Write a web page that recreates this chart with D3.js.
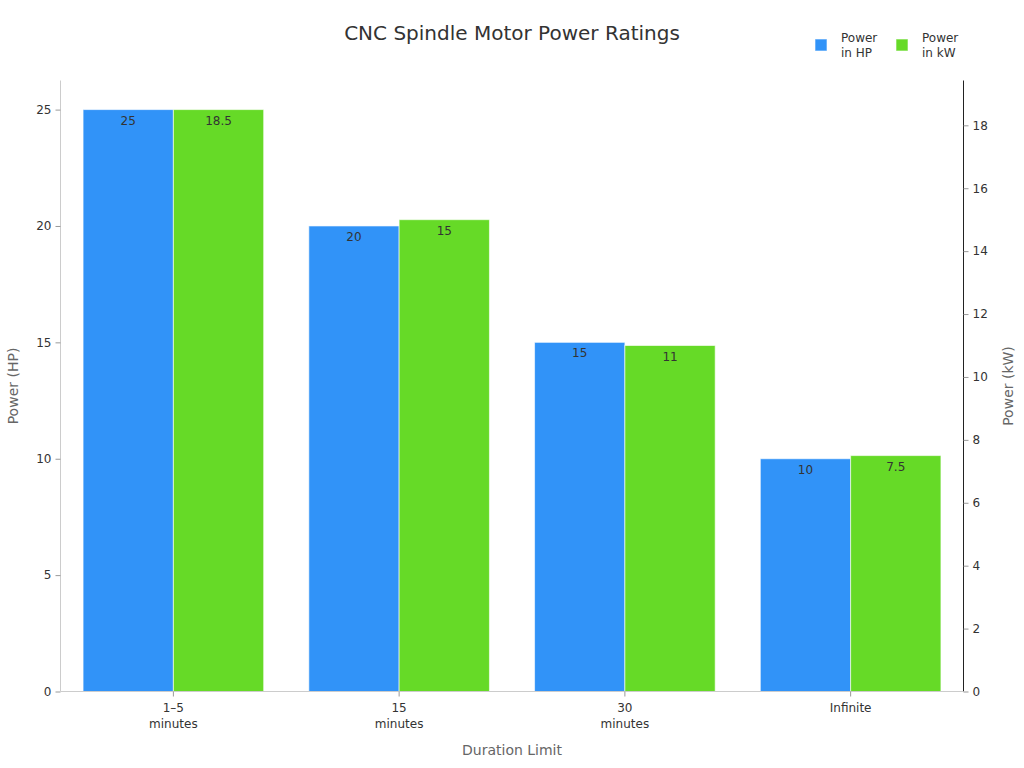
<!DOCTYPE html>
<html><head><meta charset="utf-8">
<script src="https://cdn.jsdelivr.net/npm/d3@7"></script>
<style>body{margin:0;background:#fff;font-family:"DejaVu Sans",sans-serif;}</style>
</head><body><svg id="c" width="1024" height="768"></svg>
<script>
const categories = [["1–5","minutes"],["15","minutes"],["30","minutes"],["Infinite"]];
const powerHP = [25, 20, 15, 10];
const powerKW = [18.5, 15, 11, 7.5];
const hpTicks = [0,5,10,15,20,25];
const kwTicks = [0,2,4,6,8,10,12,14,16,18];
const seriesNames = [["Power","in HP"],["Power","in kW"]];
const colors = ["#3193F8","#66DA27"];

const svg = d3.select("#c");
const L=60.5, R=963.5, T=80.5, B=691.5;
const x = d3.scaleBand().domain(d3.range(categories.length)).range([L,R]).padding(0);
const yL = d3.scaleLinear().domain([0, 26.25]).range([B,T]);
const yR = d3.scaleLinear().domain([0, 19.425]).range([B,T]);
const inner = 0.8;
const bw = x.bandwidth()*inner/2;

const g = svg.append("g");
categories.forEach((c,i)=>{
  const x0 = x(i) + x.bandwidth()*(1-inner)/2;
  [[powerHP[i], yL],[powerKW[i], yR]].forEach(([v,sc],j)=>{
    const xx = x0 + j*bw;
    g.append("rect").attr("x",xx).attr("y",sc(v)).attr("width",bw).attr("height",B-sc(v))
      .attr("fill",colors[j]).attr("stroke","rgba(255,255,255,0.6)").attr("stroke-width",1);
    g.append("text").attr("x",xx+bw/2).attr("y",sc(v)+15).attr("text-anchor","middle")
      .attr("font-size",12).attr("fill","#333").text(v);
  });
});

// left axis
const la = svg.append("g").attr("transform",`translate(${L},0)`)
  .call(d3.axisLeft(yL).tickValues(hpTicks).tickSize(5).tickPadding(4));
la.select(".domain").attr("stroke","#ccc").attr("d",`M0,${T}V${B}`);
la.selectAll(".tick line").attr("stroke","#999");
la.selectAll(".tick text").attr("font-size",12).attr("fill","#333").attr("font-family","DejaVu Sans");

// right axis
const ra = svg.append("g").attr("transform",`translate(${R},0)`)
  .call(d3.axisRight(yR).tickValues(kwTicks).tickSize(5).tickPadding(4));
ra.select(".domain").attr("stroke","#222").attr("d",`M0,${T}V${B}`);
ra.selectAll(".tick line").attr("stroke","#999");
ra.selectAll(".tick text").attr("font-size",12).attr("fill","#333").attr("font-family","DejaVu Sans");

// bottom axis
const ba = svg.append("g").attr("transform",`translate(0,${B})`)
  .call(d3.axisBottom(x).tickSize(5).tickFormat(""));
ba.select(".domain").attr("stroke","#ccc").attr("d",`M${L},0H${R}`);
ba.selectAll(".tick line").attr("stroke","#999");
ba.selectAll(".tick").each(function(d){
  const t = d3.select(this).append("text").attr("text-anchor","middle").attr("font-size",12)
    .attr("fill","#333").attr("font-family","DejaVu Sans");
  categories[d].forEach((s,k)=>t.append("tspan").attr("x",0).attr("y",20+k*16).text(s));
});

// titles
svg.append("text").attr("x",512).attr("y",40).attr("text-anchor","middle").attr("font-size",20)
  .attr("fill","#333").text("CNC Spindle Motor Power Ratings");
svg.append("text").attr("x",512).attr("y",755).attr("text-anchor","middle").attr("font-size",14)
  .attr("fill","#666").text("Duration Limit");
svg.append("text").attr("transform",`translate(18,${(T+B)/2}) rotate(-90)`).attr("text-anchor","middle")
  .attr("font-size",14).attr("fill","#666").text("Power (HP)");
svg.append("text").attr("transform",`translate(1013,${(T+B)/2}) rotate(-90)`).attr("text-anchor","middle")
  .attr("font-size",14).attr("fill","#666").text("Power (kW)");

// legend
const lg = svg.append("g");
seriesNames.forEach((n,i)=>{
  const lx = 815 + i*81;
  lg.append("rect").attr("x",lx).attr("y",39).attr("width",12).attr("height",12)
    .attr("fill",colors[i]).attr("stroke","rgba(255,255,255,0.6)");
  const t = lg.append("text").attr("font-size",12).attr("fill","#333");
  n.forEach((s,k)=>t.append("tspan").attr("x",lx+26).attr("y",42+k*15).text(s));
});
</script></body></html>
